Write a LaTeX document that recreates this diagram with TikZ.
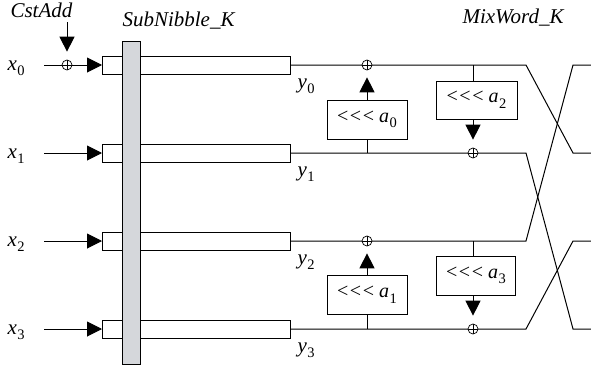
\documentclass[tikz,border=0pt]{standalone}
\usepackage{fontspec}
\setmainfont{Liberation Serif}
\usetikzlibrary{arrows.meta}
\definecolor{bargray}{HTML}{D5D7DB}
\newcommand\vsub[2]{\textit{#1}\kern0.5pt\raisebox{-0.28em}{\fontsize{14.5}{15}\selectfont #2}}
\newcommand\rotl{<\kern1.5pt<\kern1.5pt<\kern5pt}
\begin{document}
\begin{tikzpicture}[x=1pt,y=-1pt,line width=1pt,
  tip/.style={-{Triangle[length=15pt,width=15pt]}},
  xor/.style={circle,draw,minimum size=10pt,inner sep=0pt,fill=white,line width=0.7pt,
    path picture={\draw[line width=0.7pt] (path picture bounding box.north)--(path picture bounding box.south)
      (path picture bounding box.west)--(path picture bounding box.east);}},
  sbox/.style={draw,fill=white,minimum width=188pt,minimum height=18pt,inner sep=0pt,anchor=west},
  rot/.style={draw,fill=white,minimum width=80pt,minimum height=39pt,inner sep=0pt,font=\fontsize{20}{22}\selectfont},
  lab/.style={font=\fontsize{21}{24}\selectfont,inner sep=0pt}]
\useasboundingbox (0,0) rectangle (591,372);

% titles
\node[lab,anchor=base west] (tcst) at (10,17) {\textit{CstAdd}};
\node[lab,anchor=base west] (tsub) at (122,27) {\textit{SubNibble\_K}};
\node[lab,anchor=base west] (tmix) at (462,23) {\textit{MixWord\_K}};

% input rows
\foreach \i/\y in {0/65,1/153,2/241,3/329}{
  \coordinate (in\i) at (44,\y);
  \node[sbox] (sb\i) at (102,\y) {};
  \node[lab,anchor=base west] (xl\i) at (7,\y+5) {\vsub{x}{\i}};
  \node[lab,anchor=base west] (yl\i) at (297,\y+23) {\vsub{y}{\i}};
}
\node[xor] (cx) at (67,65) {};
\coordinate (cst) at (67,22);
\draw (in0) -- (cx);
\draw[tip] (cx) -- (sb0.west);
\draw[tip,shorten >=8pt] (cst) -- (cx.north);
\draw[tip] (in1) -- (sb1.west);
\draw[tip] (in2) -- (sb2.west);
\draw[tip] (in3) -- (sb3.west);

% gray S-box bar
\node[draw,fill=bargray,minimum width=18pt,minimum height=323pt,inner sep=0pt,anchor=north] (gb) at (131,41) {};

% wires with crossing
\coordinate (L0) at (526,65);  \coordinate (L1) at (526,153);
\coordinate (L2) at (526,241); \coordinate (L3) at (526,329);
\coordinate (R0) at (573,65);  \coordinate (R1) at (573,153);
\coordinate (R2) at (573,241); \coordinate (R3) at (573,329);
\coordinate (E0) at (591,65);  \coordinate (E1) at (591,153);
\coordinate (E2) at (591,241); \coordinate (E3) at (591,329);
\draw (sb0.east) -- (L0) -- (R1) -- (E1);
\draw (sb1.east) -- (L1) -- (R3) -- (E3);
\draw (sb2.east) -- (L2) -- (R0) -- (E0);
\draw (sb3.east) -- (L3) -- (R2) -- (E2);

% upper half mixing
\node[xor] (x0) at (367,65) {};
\node[xor] (x1) at (473,153) {};
\coordinate (b1) at (367,153);
\coordinate (b0) at (473,65);
\node[rot] (ra0) at (367,119.5) {\rotl\vsub{a}{0}};
\node[rot,minimum width=81pt,minimum height=38pt] (ra2) at (476.5,100) {\rotl\vsub{a}{2}};
\draw (b1) -- (ra0.south);
\draw[tip,shorten >=7pt] (ra0.north) -- (x0.south);
\draw (b0) -- (b0|-ra2.north);
\draw[tip,shorten >=8pt] (b0|-ra2.south) -- (x1.north);

% lower half mixing
\node[xor] (x2) at (367,241) {};
\node[xor] (x3) at (473,329) {};
\coordinate (b3) at (367,329);
\coordinate (b2) at (473,241);
\node[rot] (ra1) at (367,294.5) {\rotl\vsub{a}{1}};
\node[rot,minimum width=79pt] (ra3) at (476,275.5) {\rotl\vsub{a}{3}};
\draw (b3) -- (ra1.south);
\draw[tip,shorten >=7pt] (ra1.north) -- (x2.south);
\draw (b2) -- (b2|-ra3.north);
\draw[tip,shorten >=8pt] (b2|-ra3.south) -- (x3.north);
\end{tikzpicture}
\end{document}
